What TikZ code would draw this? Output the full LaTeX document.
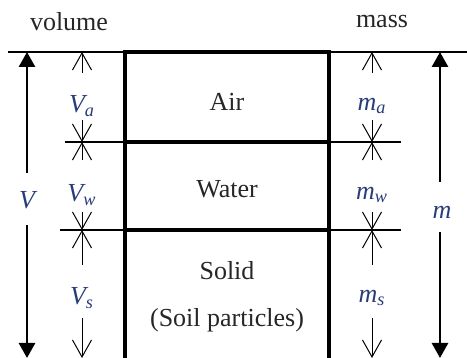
\documentclass[tikz,border=0pt]{standalone}
\usepackage{fontspec}
\setmainfont{Liberation Serif}
\usetikzlibrary{arrows.meta}
\definecolor{labelblue}{RGB}{40,60,120}
\tikzset{
    levelline/.style={line width=1pt},
    sepline/.style={line width=0.7pt},
    boxline/.style={line width=1.7pt},
    dimarrow/.style={line width=0.5pt, -{Straight Barb[length=8.5pt, width=9.5pt]}},
    bigarrow/.style={line width=1.4pt, -{Triangle[length=7.5pt, width=8pt]}},
    quantity/.style={text=labelblue, font=\fontsize{13}{15}\selectfont\itshape, inner sep=0pt},
    phase/.style={text=black!85, inner sep=0pt}
}
\newcommand{\dimlab}[2]{#1\textsubscript{#2}}

\begin{document}
\begin{tikzpicture}[x=0.5pt, y=-0.5pt, font=\fontsize{13}{15}\selectfont]
    \useasboundingbox (0,0) rectangle (467,358);
    % Levels
    \coordinate (top) at (0,52);
    \coordinate (aw) at (0,142);
    \coordinate (ws) at (0,230);
    \coordinate (bot) at (0,358);

    % Headings
    \node[phase] (volume) at (69,22) {volume};
    \node[phase] (mass) at (382,22) {mass};

    % Phase box
    \draw[levelline] (8,52) -- (467,52);
    \draw[sepline] (65,142) -- (401,142);
    \draw[sepline] (60,230) -- (401,230);
    \draw[boxline] (125,362) -- (125,52) -- (329,52) -- (329,362);
    \draw[boxline] (125,142) -- (329,142);
    \draw[boxline] (125,230) -- (329,230);
    \node[phase] (air) at (227,102) {Air};
    \node[phase] (water) at (227,189) {Water};
    \node[phase] (solid) at (227,271) {Solid};
    \node[phase] (soil) at (227,320) {(Soil particles)};

    % Volume side
    \node[quantity] (V) at (27,200) {V};
    \node[quantity] (Va) at (82,106) {\dimlab{V}{a}};
    \node[quantity] (Vw) at (82,195) {\dimlab{V}{w}};
    \node[quantity] (Vs) at (82,298) {\dimlab{V}{s}};
    \draw[bigarrow] (V) ++(0,-27) -- (V |- top);
    \draw[bigarrow] (V) ++(0,25) -- (V |- bot);
    \draw[dimarrow] (Va) ++(0,-33) -- (Va |- top);
    \draw[dimarrow] (Va) ++(0,14) -- (Va |- aw);
    \draw[dimarrow] (Vw) ++(0,-35) -- (Vw |- aw);
    \draw[dimarrow] (Vw) ++(0,17) -- (Vw |- ws);
    \draw[dimarrow] (Vs) ++(0,-33) -- (Vs |- ws);
    \draw[dimarrow] (Vs) ++(0,20) -- (Vs |- bot);

    % Mass side
    \node[quantity] (m) at (442,212) {m};
    \node[quantity] (ma) at (372,106) {\dimlab{m}{a}};
    \node[quantity] (mw) at (372,195) {\dimlab{m}{w}};
    \node[quantity] (ms) at (372,298) {\dimlab{m}{s}};
    \draw[bigarrow] ([xshift=-1pt]m.center) ++(0,-30) -- ([xshift=-1pt]m |- top);
    \draw[bigarrow] ([xshift=-1pt]m.center) ++(0,20) -- ([xshift=-1pt]m |- bot);
    \draw[dimarrow] (ma) ++(0,-33) -- (ma |- top);
    \draw[dimarrow] (ma) ++(0,14) -- (ma |- aw);
    \draw[dimarrow] (mw) ++(0,-35) -- (mw |- aw);
    \draw[dimarrow] (mw) ++(0,17) -- (mw |- ws);
    \draw[dimarrow] (ms) ++(0,-33) -- (ms |- ws);
    \draw[dimarrow] (ms) ++(0,20) -- (ms |- bot);
\end{tikzpicture}
\end{document}
